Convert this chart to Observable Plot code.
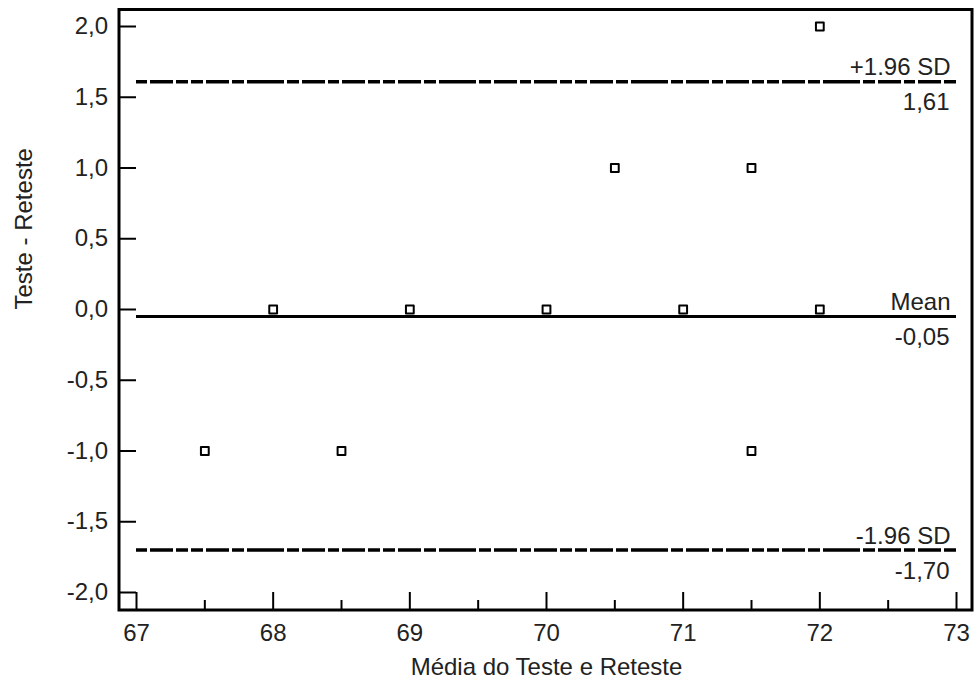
<!DOCTYPE html>
<html>
<head>
<meta charset="utf-8">
<script src="https://cdn.jsdelivr.net/npm/d3@7"></script>
<script src="https://cdn.jsdelivr.net/npm/@observablehq/plot@0.6"></script>
<style>
  html, body { margin: 0; padding: 0; background: #fff; }
</style>
</head>
<body>
<div id="chart"></div>
<script>
// Data (Bland-Altman plot)
const media = [67.5, 68, 68.5, 69, 70, 70.5, 71, 71.5, 71.5, 72, 72];
const diferenca = [-1, 0, -1, 0, 0, 1, 0, 1, -1, 2, 0];
const refValues = [1.61, -0.05, -1.70];
const refNames = ["+1.96 SD", "Mean", "-1.96 SD"];
const refLabels = ["1,61", "-0,05", "-1,70"];
const xTicks = [67, 68, 69, 70, 71, 72, 73];
const xMinorTicks = [67.5, 68.5, 69.5, 70.5, 71.5, 72.5];
const yTicks = [-2, -1.5, -1, -0.5, 0, 0.5, 1, 1.5, 2];
const xLabel = "Média do Teste e Reteste";
const yLabel = "Teste - Reteste";

const points = media.map((m, i) => ({x: m, y: diferenca[i]}));
const refs = refValues.map((v, i) => ({y: v, name: refNames[i], label: refLabels[i], dashed: i !== 1}));

const fmt = d => d.toFixed(1).replace(".", ",");

const chart = Plot.plot({
  width: 975,
  height: 681,
  marginLeft: 136,
  marginRight: 19,
  marginTop: 26,
  marginBottom: 89,
  style: {fontFamily: "'Liberation Sans', Arial, sans-serif", fontSize: "24px", color: "#222", background: "#fff"},
  x: {domain: [67, 73], label: null},
  y: {domain: [-2, 2], label: null},
  marks: [
    Plot.frame({stroke: "#000", strokeWidth: 3, insetLeft: -17.5, insetRight: -15.5, insetTop: -17, insetBottom: -17.5}),
    Plot.axisY({ticks: yTicks, tickSize: 17.5, tickPadding: 11, tickFormat: fmt, stroke: "#000", strokeWidth: 2, label: null, fill: "#222"}),
    Plot.axisX({ticks: xTicks, tickSize: 17, tickPadding: 14, tickFormat: d => String(d), stroke: "#000", strokeWidth: 2, label: null, fill: "#222"}),
    Plot.axisX({ticks: xMinorTicks, tickSize: 9, dy: 8, tickFormat: () => "", stroke: "#000", strokeWidth: 2, label: null}),
    Plot.ruleY(refs.filter(d => !d.dashed), {y: "y", x1: 67, x2: 73, stroke: "#000", strokeWidth: 3}),
    Plot.ruleY(refs.filter(d => d.dashed), {y: "y", x1: 67, x2: 73, stroke: "#000", strokeWidth: 3.5, strokeDasharray: "11,3,23,3,12,3,12,3,23,3,12,3,37,3,12,3,23,3"}),
    Plot.text(refs, {x: 73, y: "y", text: "name", textAnchor: "end", dx: -6, dy: -14, lineAnchor: "middle", fill: "#222"}),
    Plot.text(refs, {x: 73, y: "y", text: "label", textAnchor: "end", dx: -7, dy: 21, lineAnchor: "middle", fill: "#222"}),
    Plot.dot(points, {x: "x", y: "y", symbol: "square", r: 4.4, stroke: "#000", strokeWidth: 2, strokeLinejoin: "round", fill: "#fff"}),
    Plot.text([xLabel], {frameAnchor: "bottom", text: d => d, dy: 75, lineAnchor: "middle", fill: "#222"}),
    Plot.text([yLabel], {frameAnchor: "left", text: d => d, rotate: -90, dx: -112, lineAnchor: "middle", fill: "#222"})
  ]
});
document.getElementById("chart").appendChild(chart);
</script>
</body>
</html>
